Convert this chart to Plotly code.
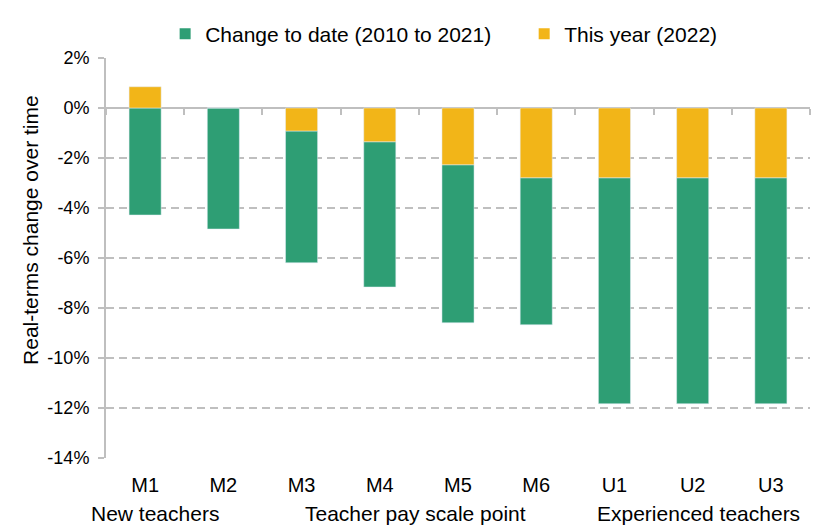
import plotly.graph_objects as go

# teacher pay scale points and real-terms change (%)
points = ["M1", "M2", "M3", "M4", "M5", "M6", "U1", "U2", "U3"]
change_to_date = [-4.28, -4.84, -5.27, -5.81, -6.32, -5.88, -9.04, -9.04, -9.04]
this_year = [0.85, 0.0, -0.92, -1.35, -2.27, -2.79, -2.79, -2.79, -2.79]

y_ticks = [2, 0, -2, -4, -6, -8, -10, -12, -14]
y_tick_labels = ["2%", "0%", "-2%", "-4%", "-6%", "-8%", "-10%", "-12%", "-14%"]

groups = ["New teachers", "Teacher pay scale point", "Experienced teachers"]
group_pos = [0.07, 0.439, 0.842]

GREEN = "#2E9E74"
YELLOW = "#F2B518"
GREY = "#BFBFBF"
FONT = "Liberation Sans, Arial, sans-serif"
FS = 20

# green bars hang below this year's cut when it is negative
green_base = [min(v, 0) for v in this_year]

fig = go.Figure()
fig.add_trace(go.Bar(x=points, y=change_to_date, base=green_base, width=0.41,
                     marker_color=GREEN, showlegend=False, hoverinfo="skip"))
fig.add_trace(go.Bar(x=points, y=this_year, base=0, width=0.41,
                     marker_color=YELLOW, showlegend=False, hoverinfo="skip"))

# legend entries with small square swatches, one legend each so they can be spaced
fig.add_trace(go.Scatter(x=[None], y=[None], mode="markers", name="Change to date (2010 to 2021)",
                         marker=dict(symbol="square", size=11, color=GREEN), legend="legend"))
fig.add_trace(go.Scatter(x=[None], y=[None], mode="markers", name="This year (2022)",
                         marker=dict(symbol="square", size=11, color=YELLOW), legend="legend2"))

# invisible trace so the zero-line axis has the categories
fig.add_trace(go.Scatter(x=points, y=[0] * len(points), xaxis="x2", mode="markers",
                         marker=dict(opacity=0), showlegend=False, hoverinfo="skip"))

for i, g in enumerate(groups):
    fig.add_annotation(text=g, x=group_pos[i], xref="paper", y=-0.1375, yref="paper",
                       showarrow=False, xanchor="center", yanchor="middle",
                       font=dict(size=21, color="black", family=FONT))

# y title sits a little above the plot centre in the original
fig.add_annotation(text="Real-terms change over time", textangle=-90,
                   x=-0.108, xref="paper", y=0.57, yref="paper",
                   showarrow=False, xanchor="center", yanchor="middle",
                   font=dict(size=21, color="black", family=FONT))

leg = dict(orientation="h", xanchor="left", y=1.06, yanchor="middle",
           font=dict(size=21), itemwidth=30, bgcolor="rgba(0,0,0,0)")

# page body adds an 8px offset, so the figure is a bit smaller than the window
fig.update_layout(
    width=819, height=519,
    margin=dict(l=98, r=17, t=50, b=69, autoexpand=False),
    plot_bgcolor="white", paper_bgcolor="white",
    barmode="overlay",
    font=dict(family=FONT, size=FS, color="black"),
    legend=dict(leg, x=0.084),
    legend2=dict(leg, x=0.594),
    xaxis=dict(range=[-0.5, 8.5], categoryorder="array", categoryarray=points,
               showline=False, showgrid=False, ticks="", ticklabelstandoff=13,
               tickfont=dict(size=FS)),
    xaxis2=dict(range=[-0.5, 8.5], categoryorder="array", categoryarray=points,
                overlaying="x", anchor="free", position=0.875, side="bottom",
                showticklabels=False, showgrid=False, showline=False,
                ticks="outside", tickson="boundaries", ticklen=6, tickwidth=2,
                tickcolor=GREY),
    yaxis=dict(range=[-14, 2], tickvals=y_ticks, ticktext=y_tick_labels,
               showgrid=True, gridcolor=GREY, gridwidth=2, griddash="8px,5px",
               zeroline=True, zerolinecolor=GREY, zerolinewidth=2,
               showline=True, linecolor=GREY, linewidth=2,
               ticks="outside", ticklen=6, tickwidth=2, tickcolor=GREY,
               ticklabelstandoff=5, tickfont=dict(size=18)),
)

fig.write_html("out.html")
